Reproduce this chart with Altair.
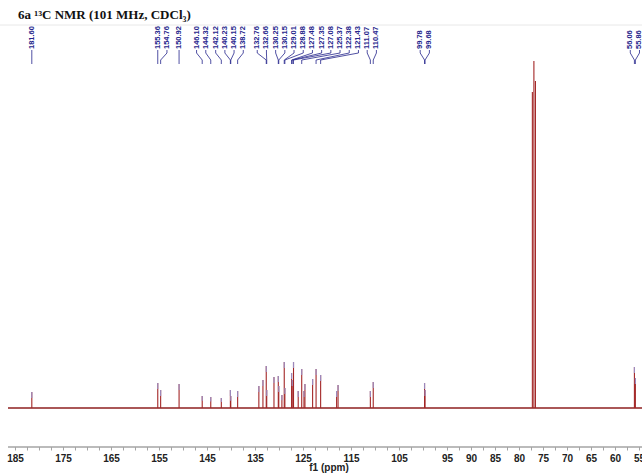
import altair as alt
import pandas as pd

# ---------------- data ----------------
title_text = "6a ¹³C NMR (101 MHz, CDCl₃)"

peak_ppm = [181.60, 155.36, 154.76, 150.92, 146.10, 144.32, 142.12, 140.23, 140.15,
            138.72, 134.30, 133.45, 132.76, 132.66, 131.15, 130.25, 130.15, 129.50,
            129.01, 128.88, 127.48, 127.35, 127.08, 126.10, 125.37, 124.90, 124.70,
            123.10, 122.38, 121.43, 118.10, 117.80, 111.07, 110.47, 99.78, 99.68,
            77.32, 77.00, 76.68, 56.06, 55.86]
peak_int = [16, 25, 18, 24, 12, 11, 10, 18, 12,
            17, 22, 28, 42, 18, 31, 32, 22, 13,
            46, 20, 35, 28, 46, 17, 39, 17, 24,
            29, 39, 33, 17, 23, 17, 26, 25, 18,
            316, 347, 327, 41, 30]
solvent_ppm = [77.32, 77.00, 76.68]

label_ppm = [181.60, 155.36, 154.76, 150.92, 146.10, 144.32, 142.12, 140.23, 140.15,
             138.72, 132.76, 132.66, 130.25, 130.15, 129.01, 128.88, 127.48, 127.35,
             127.08, 125.37, 122.38, 121.43, 111.07, 110.47, 99.78, 99.68, 56.06, 55.86]

tick_labels = [185, 175, 165, 155, 145, 135, 125, 115, 105, 95, 90, 85, 80, 75, 70, 65, 60, 55]
tick_step = 2.5

# ---------------- layout ----------------
W, H = 634, 387
X_MIN, X_MAX = 54.48, 186.56
Y_MIN, Y_MAX = -39, 348

LABEL_STEP = 9.2   # px between neighbouring labels
MAX_SHIFT = 9.0    # px
GROUP_GAP = 4.0    # ppm

ppx = W / (X_MAX - X_MIN)
to_px = lambda p: (X_MAX - p) * ppx
to_ppm = lambda x: X_MAX - x / ppx

targets = sorted(label_ppm, reverse=True)
groups = []
for p in targets:
    if groups and groups[-1][-1] - p <= GROUP_GAP:
        groups[-1].append(p)
    else:
        groups.append([p])
label_pos = {}
for g in groups:
    xs = []
    for p in g:
        t = to_px(p)
        xs.append(t if not xs else max(t, xs[-1] + LABEL_STEP))
    over = xs[-1] - to_px(g[-1])
    shift = min(over / 2, MAX_SHIFT)
    for p, x in zip(g, xs):
        label_pos[p] = to_ppm(x - shift)

peaks = pd.DataFrame({"ppm": peak_ppm, "inten": peak_int})
peaks["base"] = 0
tips = peaks[~peaks["ppm"].isin(solvent_ppm)].copy()
tips["tip0"] = tips["inten"] - (tips["inten"] * 0.4).clip(upper=6)

labels = pd.DataFrame({"ppm": label_ppm})
labels["lab"] = labels["ppm"].map(label_pos)
labels["txt"] = labels["ppm"].map(lambda v: f"{v:.2f}")

n_ticks = int(round((max(tick_labels) - min(tick_labels)) / tick_step)) + 1
minor = pd.DataFrame({"v": [min(tick_labels) + tick_step * i for i in range(n_ticks)]})
axis_df = pd.DataFrame({"v": tick_labels})

xscale = alt.Scale(domain=[X_MIN, X_MAX], reverse=True, nice=False, zero=False)
yscale = alt.Scale(domain=[Y_MIN, Y_MAX], nice=False, zero=False)

AX = "#a4a4a4"
INK = "#222222"
RED = "#a32626"
BLUE = "#25258c"

# axis line, ticks and labels drawn as marks so that no label is hidden
axis_line = alt.Chart(pd.DataFrame({"a": [0]})).mark_rule(color=AX, strokeWidth=1.5).encode(
    x=alt.value(0), x2=alt.value(W), y=alt.value(H)
)
minor_ticks = alt.Chart(minor).mark_rule(color=AX, strokeWidth=1).encode(
    x=alt.X("v:Q", scale=xscale, axis=None), y=alt.value(H), y2=alt.value(H + 3.5)
)
tick_text = alt.Chart(axis_df).mark_text(
    baseline="top", align="center", font="Liberation Sans", fontSize=10,
    fontWeight="bold", color=INK,
).encode(x=alt.X("v:Q", scale=xscale, axis=None), y=alt.value(H + 7), text=alt.Text("v:Q", format="d"))
axis_title = alt.Chart(pd.DataFrame({"t": ["f1 (ppm)"]})).mark_text(
    baseline="top", align="center", font="Liberation Sans", fontSize=10,
    fontWeight="bold", color=INK,
).encode(x=alt.value(321), y=alt.value(H + 16), text="t:N")

baseline = alt.Chart(pd.DataFrame({"y": [0]})).mark_rule(color="#8e1f1f", strokeWidth=1.5).encode(
    x=alt.value(0), x2=alt.value(W), y=alt.Y("y:Q", scale=yscale, axis=None)
)

peak_rules = alt.Chart(peaks).mark_rule(color=RED, strokeWidth=1.1).encode(
    x=alt.X("ppm:Q", scale=xscale, axis=None),
    y=alt.Y("base:Q", scale=yscale, axis=None),
    y2="inten:Q",
)

tip_rules = alt.Chart(tips).mark_rule(color="#9a9ad6", strokeWidth=1.2, opacity=0.85).encode(
    x=alt.X("ppm:Q", scale=xscale, axis=None),
    y=alt.Y("tip0:Q", scale=yscale, axis=None),
    y2="inten:Q",
)

lead1 = alt.Chart(labels).mark_rule(color=BLUE, strokeWidth=0.8).encode(
    x=alt.X("lab:Q", scale=xscale, axis=None), y=alt.value(-10), y2=alt.value(-7)
)
lead2 = alt.Chart(labels).mark_rule(color=BLUE, strokeWidth=0.8).encode(
    x=alt.X("lab:Q", scale=xscale, axis=None), x2="ppm:Q", y=alt.value(-7), y2=alt.value(0)
)
lead3 = alt.Chart(labels).mark_rule(color=BLUE, strokeWidth=0.8).encode(
    x=alt.X("ppm:Q", scale=xscale, axis=None), y=alt.value(0), y2=alt.value(4)
)
label_text = alt.Chart(labels).mark_text(
    angle=270, align="left", baseline="middle", font="Liberation Sans",
    fontSize=7.5, fontWeight="bold", color=BLUE,
).encode(x=alt.X("lab:Q", scale=xscale, axis=None), y=alt.value(-11), text="txt:N")

top_line = alt.Chart(pd.DataFrame({"a": [0]})).mark_rule(color="#e8e8e8", strokeWidth=1).encode(
    x=alt.value(-8), x2=alt.value(W), y=alt.value(-35)
)

title = alt.Chart(pd.DataFrame({"t": [title_text]})).mark_text(
    align="left", baseline="alphabetic", font="Liberation Serif",
    fontSize=13, fontWeight="bold", color="#111111",
).encode(x=alt.value(10), y=alt.value(-41), text="t:N")

chart = alt.layer(
    top_line, baseline, peak_rules, tip_rules, axis_line, minor_ticks, tick_text, axis_title,
    lead1, lead2, lead3, label_text, title
).properties(
    width=W, height=H,
    padding={"left": 8, "top": 60, "right": 0, "bottom": 27},
    autosize=alt.AutoSizeParams(type="none"),
    background="white",
).configure_view(stroke=None)

chart.save("out.html", embed_options={"renderer": "svg", "actions": False})
